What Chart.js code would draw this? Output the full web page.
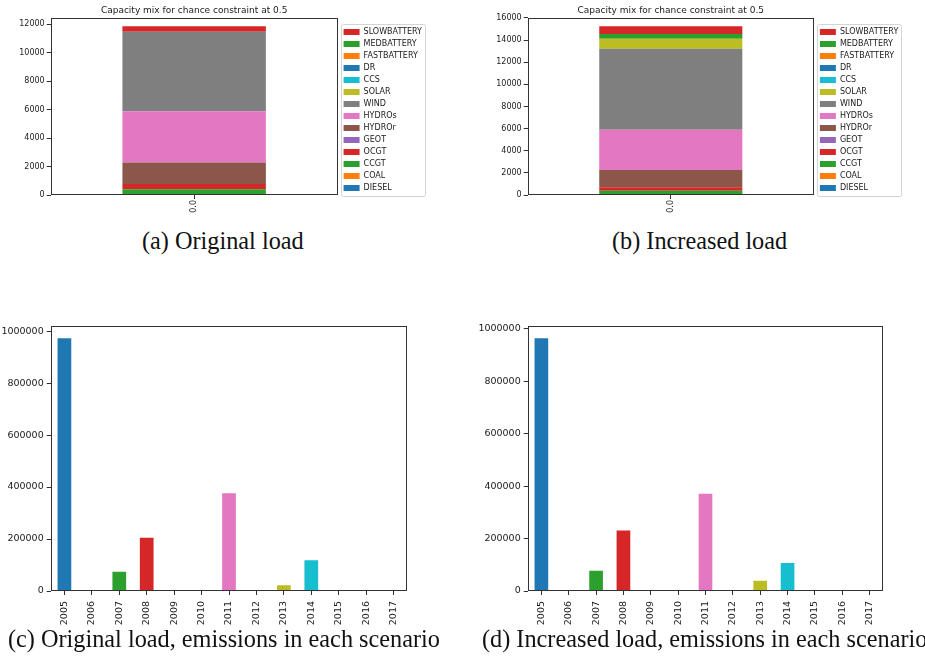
<!DOCTYPE html>
<html><head><meta charset="utf-8">
<script src="https://cdn.jsdelivr.net/npm/chart.js@4.4.1/dist/chart.umd.min.js"></script>
<style>
html,body{margin:0;padding:0;background:#fff;width:925px;height:666px;overflow:hidden;position:relative}
canvas{position:absolute;display:block}
.cap{position:absolute;font-family:"Liberation Serif",serif;color:#111;white-space:nowrap;line-height:1}
</style></head><body>
<canvas id="ca" width="440" height="220" style="left:0px;top:0px;width:440px;height:220px"></canvas>
<canvas id="cb" width="460" height="220" style="left:460px;top:0px;width:460px;height:220px"></canvas>
<canvas id="cc" width="440" height="320" style="left:0px;top:310px;width:440px;height:320px"></canvas>
<canvas id="cd" width="450" height="320" style="left:460px;top:310px;width:450px;height:320px"></canvas>
<div class="cap" id="capA" style="left:142px;top:229px">(a) Original load</div>
<div class="cap" id="capB" style="left:612px;top:229px">(b) Increased load</div>
<div class="cap" id="capC" style="left:8px;top:627px">(c) Original load, emissions in each scenario</div>
<div class="cap" id="capD" style="left:482px;top:627px">(d) Increased load, emissions in each scenario</div>
<script>
// ---- data ----
const techs = ['DIESEL','COAL','CCGT','OCGT','GEOT','HYDROr','HYDROs','WIND','SOLAR','CCS','DR','FASTBATTERY','MEDBATTERY','SLOWBATTERY'];
const techColors = ['#1f77b4','#ff7f0e','#2ca02c','#d62728','#9467bd','#8c564b','#e377c2','#7f7f7f','#bcbd22','#17becf','#1f77b4','#ff7f0e','#2ca02c','#d62728'];
const capacityCategory = ['0.0'];
const capOriginal  = [0, 0, 400, 380, 0, 1510, 3590, 5580, 0,   0, 0, 0, 0,   400];
const capIncreased = [0, 0, 390, 310, 0, 1560, 3640, 7320, 900, 0, 0, 0, 420, 720];
const capTicksOriginal  = [0, 2000, 4000, 6000, 8000, 10000, 12000];
const capTicksIncreased = [0, 2000, 4000, 6000, 8000, 10000, 12000, 14000, 16000];
const years = ['2005','2006','2007','2008','2009','2010','2011','2012','2013','2014','2015','2016','2017'];
const yearColors = ['#1f77b4','#ff7f0e','#2ca02c','#d62728','#9467bd','#8c564b','#e377c2','#7f7f7f','#bcbd22','#17becf','#1f77b4','#ff7f0e','#2ca02c'];
const emisOriginal  = [972000, 0, 74000, 205000, 0, 0, 376500, 0, 22000, 118000, 0, 0, 0];
const emisIncreased = [963000, 0, 77500, 231000, 0, 0, 370500, 0, 39000, 106500, 0, 0, 0];
const emisTicks = [0, 200000, 400000, 600000, 800000, 1000000];
const capTitle = 'Capacity mix for chance constraint at 0.5';

// ---- plugins ----
const frame = {id:'frame', afterDatasetsDraw(chart){
  const a = chart.chartArea, c = chart.ctx;
  c.save(); c.strokeStyle = '#333'; c.lineWidth = 1;
  const l = Math.round(a.left)+0.5, t = Math.round(a.top)+0.5, r = Math.round(a.right)-0.5, b = Math.round(a.bottom)-0.5;
  c.strokeRect(l, t, r-l, b-t); c.restore();
}};
const legendShift = {id:'legendShift', afterLayout(chart, args, opts){
  const lg = chart.legend; if (lg && opts && opts.dx) { lg.left += opts.dx; lg.right += opts.dx; }
}};
const legendFrame = {id:'legendFrame', afterDraw(chart){
  const lg = chart.legend; if (!lg || !lg.legendHitBoxes || !lg.legendHitBoxes.length) return;
  const hb = lg.legendHitBoxes;
  const x0 = Math.min(...hb.map(h=>h.left)) - 3, x1 = Math.max(...hb.map(h=>h.left+h.width)) + 3;
  const y0 = Math.min(...hb.map(h=>h.top)) - 4, y1 = Math.max(...hb.map(h=>h.top+h.height)) + 4;
  const c = chart.ctx; c.save(); c.strokeStyle = '#d4d4d4'; c.lineWidth = 1;
  c.beginPath(); c.roundRect(Math.round(x0)+0.5, Math.round(y0)+0.5, Math.round(x1-x0), Math.round(y1-y0), 2); c.stroke(); c.restore();
}};

const tickFont = (s)=>({family:'DejaVu Sans', size:s});
const raw = v => String(v);
const fixedTicks = (arr) => (scale) => { scale.ticks = arr.map(v=>({value:v})); };

function capChart(id, values, yTicks, padL, padR) {
  const total = values.reduce((s,v)=>s+v,0);
  return new Chart(document.getElementById(id), {
    type:'bar',
    data:{labels:capacityCategory, datasets: techs.map((t,i)=>({label:t, data:[values[i]], backgroundColor:techColors[i], borderWidth:0, barPercentage:0.5, categoryPercentage:1}))},
    options:{
      responsive:false, animation:false, devicePixelRatio:1,
      layout:{padding:{left:padL, right:padR, top:0, bottom:0}},
      plugins:{
        title:{display:true, fullSize:false, text:capTitle, color:'#1a1a1a', font:{family:'DejaVu Sans', size:9, weight:'normal'}, padding:{top:5.6, bottom:1.3}},
        legend:{position:'right', align:'center', reverse:true, labels:{boxWidth:16, boxHeight:6, padding:4, color:'#1a1a1a', font:tickFont(8)}},
        tooltip:{enabled:false},
        legendShift:{dx:2}
      },
      scales:{
        x:{stacked:true, grid:{offset:false, drawOnChartArea:false, drawTicks:true, tickLength:4, color:'#333'}, border:{display:false},
           ticks:{minRotation:90, maxRotation:90, padding:1, color:'#1a1a1a', font:tickFont(8)}, afterFit(s){ s.height = 25; }},
        y:{stacked:true, min:0, max: total*1.05, grid:{drawOnChartArea:false, drawTicks:true, tickLength:4, color:'#333'}, border:{display:false},
           afterBuildTicks: fixedTicks(yTicks),
           ticks:{padding:2, color:'#1a1a1a', font:tickFont(8), callback:raw}, afterFit(s){ s.width = 41; }}
      }
    },
    plugins:[frame, legendShift, legendFrame]
  });
}

function emisChart(id, values, padL, padR) {
  const mx = Math.max(...values);
  return new Chart(document.getElementById(id), {
    type:'bar',
    data:{labels:years, datasets:[{label:'emissions', data:values, backgroundColor:yearColors, borderWidth:0, barPercentage:0.5, categoryPercentage:1}]},
    options:{
      responsive:false, animation:false, devicePixelRatio:1,
      layout:{padding:{left:padL, right:padR, top:15.7, bottom:0}},
      plugins:{legend:{display:false}, title:{display:false}, tooltip:{enabled:false}},
      scales:{
        x:{grid:{offset:false, drawOnChartArea:false, drawTicks:true, tickLength:4, color:'#333'}, border:{display:false},
           ticks:{minRotation:90, maxRotation:90, autoSkip:false, padding:6, color:'#1a1a1a', font:tickFont(9.5)}, afterFit(s){ s.height = 39; }},
        y:{min:0, max: mx*1.05, grid:{drawOnChartArea:false, drawTicks:true, tickLength:4, color:'#333'}, border:{display:false},
           afterBuildTicks: fixedTicks(emisTicks),
           ticks:{padding:3, color:'#1a1a1a', font:tickFont(9.5), callback:raw}, afterFit(s){ s.width = 50.7; }}
      }
    },
    plugins:[frame]
  });
}

capChart('ca', capOriginal, capTicksOriginal, 9.7, 10);
capChart('cb', capIncreased, capTicksIncreased, 26.7, 13.7);
emisChart('cc', emisOriginal, 0, 32.7);
emisChart('cd', emisIncreased, 17, 26.7);

// captions: size the serif font to match the reference text width
(function(){
  const m = document.createElement('canvas').getContext('2d');
  m.font = '100px "Liberation Serif"';
  const ref = document.getElementById('capC');
  const size = 100 * 432 / m.measureText(ref.textContent).width;
  ['capA','capB','capC','capD'].forEach(id=>{ document.getElementById(id).style.fontSize = size.toFixed(2)+'px'; });
})();
</script>
</body></html>
